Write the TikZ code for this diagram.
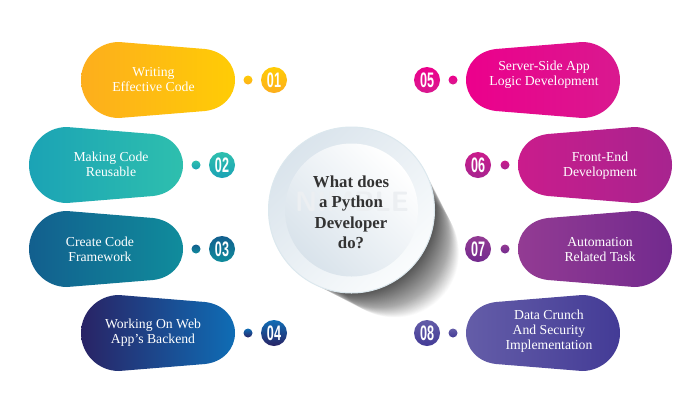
\documentclass[tikz,border=0pt]{standalone}
\usepackage{fontspec}
\setmainfont{Liberation Serif}
\newfontfamily\numfont[FakeStretch=0.6]{Liberation Sans}
\definecolor{a1}{HTML}{FDAE1D}\definecolor{b1}{HTML}{FFCC05}
\definecolor{a2}{HTML}{1BA3B5}\definecolor{b2}{HTML}{2EBFAE}
\definecolor{a3}{HTML}{125F8E}\definecolor{b3}{HTML}{108C9C}
\definecolor{a4}{HTML}{292365}\definecolor{b4}{HTML}{0F6DB5}
\definecolor{a5}{HTML}{EC008C}\definecolor{b5}{HTML}{D9198F}
\definecolor{a6}{HTML}{CA1C8C}\definecolor{b6}{HTML}{A7248F}
\definecolor{a7}{HTML}{933B93}\definecolor{b7}{HTML}{722A8E}
\definecolor{a8}{HTML}{645DA8}\definecolor{b8}{HTML}{433B96}
\definecolor{rimA}{HTML}{DAE4EC}\definecolor{rimB}{HTML}{FAFCFD}
\definecolor{rimEdge}{HTML}{DCE8EE}
\definecolor{discA}{HTML}{FFFFFF}\definecolor{discB}{HTML}{D9E3EB}
\definecolor{headtext}{HTML}{333333}\definecolor{wmark}{HTML}{ECEFF2}
\tikzset{
  pilltext/.style={text=white,font=\fontsize{13.7}{15}\selectfont,align=center,inner sep=0pt},
  numtext/.style={text=white,font=\numfont\bfseries\fontsize{21}{21}\selectfont,inner sep=0pt},
}
\newcommand{\pillshape}[6]{%
  \path[left color=#5,right color=#6,shift={(#2,#3)},xscale=#4]
    (0,0) .. controls (0,-21) and (17,-38) .. (38,-38)
    -- (124,-31) .. controls (142,-29) and (154,-16) .. (154,0)
    .. controls (154,16) and (142,29) .. (124,31)
    -- (38,38) .. controls (17,38) and (0,21) .. (0,0) -- cycle;
}
\newcommand{\badge}[7]{%
  \node[circle,minimum size=9pt,inner sep=0pt,top color=#5,bottom color=#6] (dot#1) at (#2,#4) {};
  \node[circle,minimum size=26pt,inner sep=0pt,top color=#5,bottom color=#6,numtext] (num#1) at (#3,#4) {#7};
}
\begin{document}
\begin{tikzpicture}[x=1pt,y=-1pt]
\useasboundingbox[fill=white] (0,0) rectangle (700,400);

% soft shadow of the centre disc: stacked translucent discs drifting to the lower right
\foreach \i in {1,...,70} {
  \fill[black,opacity=0.011] ({351.5+\i*0.62},{210+\i*0.62}) circle[radius={(83-\i*0.27)*1pt}];
}

\pillshape{1}{81}{80}{1}{a1}{b1}
\pillshape{2}{29}{165}{1}{a2}{b2}
\pillshape{3}{29}{249}{1}{a3}{b3}
\pillshape{4}{81}{333}{1}{a4}{b4}
\pillshape{5}{620}{80}{-1}{a5}{b5}
\pillshape{6}{672}{165}{-1}{a6}{b6}
\pillshape{7}{672}{249}{-1}{a7}{b7}
\pillshape{8}{620}{333}{-1}{a8}{b8}

\node[pilltext] (t1) at (153.5,80) {Writing\\Effective Code};
\node[pilltext] (t2) at (111,164.5) {Making Code\\Reusable};
\node[pilltext] (t3) at (100,249.5) {Create Code\\Framework};
\node[pilltext] (t4) at (153,333) {Working On Web\\App’s Backend};
\node[pilltext] (t5) at (544,75) {Server-Side App\\Logic Development};
\node[pilltext] (t6) at (600,165.5) {Front-End\\Development};
\node[pilltext] (t7) at (600,249.5) {Automation\\Related Task};
\node[pilltext] (t8) at (549,331.5) {Data Crunch\\And Security\\Implementation};

\badge{1}{248}{274}{80}{b1}{a1}{01}
\badge{2}{196}{222}{165}{b2}{a2}{02}
\badge{3}{196}{222}{249}{a3}{b3}{03}
\badge{4}{248}{274}{333}{b4}{a4}{04}
\badge{5}{453}{427}{80}{a5}{b5}{05}
\badge{6}{505}{478}{165}{a6}{b6}{06}
\badge{7}{505}{478}{249}{a7}{b7}{07}
\badge{8}{453}{427}{333}{a8}{b8}{08}

% centre disc
\node[circle,minimum size=166pt,inner sep=0pt,draw=rimEdge,line width=1pt,top color=rimA,bottom color=rimB,shading angle=45] (outer) at (351.5,210) {};
\node[circle,minimum size=133pt,inner sep=0pt,top color=discA,bottom color=discB,shading angle=-45] (inner) at (351.5,210) {};
\node[text=wmark,font=\sffamily\bfseries\fontsize{28}{28}\selectfont,inner sep=0pt] (wm) at (352,202) {NIMBLE};
\node[text=headtext,font=\fontsize{16.8}{20.5}\selectfont\bfseries,align=center,inner sep=0pt] (head) at (351,212.5) {What does\\a Python\\Developer\\do?};
\end{tikzpicture}
\end{document}
